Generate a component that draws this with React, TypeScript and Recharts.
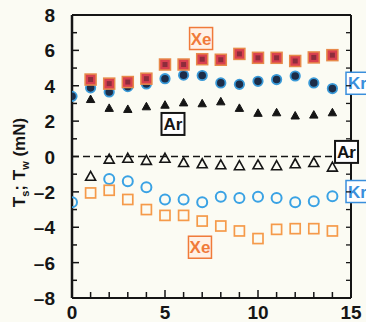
import React from 'react';
import { ComposedChart, Scatter, XAxis, YAxis, ReferenceLine, ReferenceDot } from 'recharts';

// ---- data ----
const xValues = [0, 1, 2, 3, 4, 5, 6, 7, 8, 9, 10, 11, 12, 13, 14];
// T_s (filled markers)
const xeTs = [null, 4.35, 4.12, 4.21, 4.4, 5.2, 5.2, 5.5, 5.47, 5.8, 5.58, 5.58, 5.4, 5.6, 5.73];
const krTs = [3.4, 3.88, 3.65, 3.95, 4.1, 4.4, 4.6, 4.58, 4.16, 4.08, 4.25, 4.35, 4.55, 4.16, 3.84];
const arTs = [null, 3.22, 2.72, 2.66, 2.81, 2.9, 3.03, 2.98, 3.09, 2.72, 2.44, 2.47, 2.29, 2.34, 2.47];
// T_w (open markers)
const arTw = [null, -1.12, -0.15, -0.1, -0.22, -0.1, -0.34, -0.41, -0.47, -0.52, -0.47, -0.52, -0.41, -0.34, -0.6];
const krTw = [-2.58, null, -1.27, -1.4, -1.74, -2.43, -2.43, -2.58, -2.28, -2.34, -2.28, -2.34, -2.58, -2.53, -2.25];
const xeTw = [null, -2.06, -1.91, -2.43, -3.0, -3.33, -3.33, -3.65, -3.93, -4.21, -4.64, -4.12, -4.08, -4.08, -4.21];

const xTicks = [0, 1, 2, 3, 4, 5, 6, 7, 8, 9, 10, 11, 12, 13, 14, 15];
const yTicks = [-8, -7, -6, -5, -4, -3, -2, -1, 0, 1, 2, 3, 4, 5, 6, 7, 8];
const xLabeled = [0, 5, 10, 15];
const yLabeled = [-8, -6, -4, -2, 0, 2, 4, 6, 8];

// annotation tags (data coordinates)
const tagNames = ['Xe', 'Ar', 'Xe', 'Kr', 'Ar', 'Kr'];
const tagX = [6.94, 5.43, 6.88, 15.35, 14.76, 15.35];
const tagY = [6.67, 1.84, -5.13, 4.14, 0.26, -1.98];

const toPoints = (ys: (number | null)[]) =>
  xValues.map((x, i) => ({ x, y: ys[i] })).filter((p) => p.y !== null);

const FONT = '"Liberation Sans", Arial, Helvetica, sans-serif';
const INK = '#151515';

const fmt = (v: number) => (v < 0 ? '\u2013' + Math.abs(v) : String(v));

const LeftTick = (props: any) => {
  const { x, y, payload } = props;
  const v = payload.value;
  const major = yLabeled.includes(v);
  return (
    <g>
      <line x1={x} x2={x + (major ? 7 : 5)} y1={y} y2={y} stroke={INK} strokeWidth={1.5} />
      {major && (
        <text x={x - 17} y={y + 7} textAnchor="end" fontSize={19} fontWeight="bold" fontFamily={FONT} fill={INK}>
          {fmt(v)}
        </text>
      )}
    </g>
  );
};

const RightTick = (props: any) => {
  const { x, y } = props;
  return <line x1={x} x2={x - 5} y1={y} y2={y} stroke={INK} strokeWidth={1.3} />;
};

const BottomTick = (props: any) => {
  const { x, y, payload } = props;
  const v = payload.value;
  const major = xLabeled.includes(v);
  return (
    <g>
      <line x1={x} x2={x} y1={y} y2={y - (major ? 8 : 6)} stroke={INK} strokeWidth={1.5} />
      {major && (
        <text x={x} y={y + 21} textAnchor="middle" fontSize={19} fontWeight="bold" fontFamily={FONT} fill={INK}>
          {fmt(v)}
        </text>
      )}
    </g>
  );
};

const TopTick = (props: any) => {
  const { x, y } = props;
  return <line x1={x} x2={x} y1={y} y2={y + 5} stroke={INK} strokeWidth={1.3} />;
};

const YLabel = (props: any) => {
  const vb = props.viewBox || { x: 0, y: 15, width: 72, height: 283 };
  const cx = vb.x + 25;
  const cy = vb.y + vb.height / 2 + 6;
  return (
    <text
      x={cx}
      y={cy}
      transform={`rotate(-90 ${cx} ${cy})`}
      textAnchor="middle"
      fontSize={17}
      fontWeight="bold"
      fontFamily={FONT}
      fill={INK}
    >
      T<tspan fontSize={11} dy={4}>s</tspan>
      <tspan dy={-4}>; T</tspan>
      <tspan fontSize={11} dy={4}>w</tspan>
      <tspan dy={-4}> (mN)</tspan>
    </text>
  );
};

// marker shapes
const FilledSquare = ({ cx, cy }: any) => (
  <g>
    <rect x={cx - 5.5} y={cy - 5.5} width={11} height={11} fill="#d9404f" stroke="#e7894a" strokeWidth={1.5} />
    <rect x={cx - 2.5} y={cy - 2.5} width={5} height={5} fill="#8e2c3c" />
  </g>
);
const FilledCircle = ({ cx, cy }: any) => (
  <circle cx={cx} cy={cy} r={4.7} fill="#1d2d48" stroke="#3a9ad8" strokeWidth={1.8} />
);
const FilledTriangle = ({ cx, cy }: any) => (
  <path d={`M${cx},${cy - 4.5} L${cx + 4.2},${cy + 3} L${cx - 4.2},${cy + 3} Z`} fill={INK} stroke={INK} strokeWidth={1} />
);
const OpenTriangle = ({ cx, cy }: any) => (
  <path d={`M${cx},${cy - 5} L${cx + 5},${cy + 4} L${cx - 5},${cy + 4} Z`} fill="none" stroke={INK} strokeWidth={1.6} />
);
const OpenCircle = ({ cx, cy }: any) => (
  <circle cx={cx} cy={cy} r={5} fill="none" stroke="#3aa2e4" strokeWidth={2} />
);
const OpenSquare = ({ cx, cy }: any) => (
  <rect x={cx - 5} y={cy - 5} width={10} height={10} fill="none" stroke="#f59a4a" strokeWidth={1.7} />
);

const tagStyle: Record<string, { color: string; bg: string; sw: number }> = {
  Xe: { color: '#f07a3a', bg: '#fff1e6', sw: 1.5 },
  Kr: { color: '#3a8fdc', bg: '#ffffff', sw: 1.5 },
  Ar: { color: INK, bg: '#ffffff', sw: 2 },
};

const makeTag = (name: string) => (props: any) => {
  const { cx, cy } = props;
  const s = tagStyle[name];
  return (
    <g>
      <rect x={cx - 11.5} y={cy - 11} width={23} height={22} fill={s.bg} stroke={s.color} strokeWidth={s.sw} />
      <text x={cx} y={cy + 6} textAnchor="middle" fontSize={17} fontWeight="bold" fontFamily={FONT} fill={s.color}>
        {name}
      </text>
    </g>
  );
};

export default function App() {
  return (
    <div style={{ position: 'absolute', left: 0, top: 0, width: 366, height: 322, background: '#fbfbf3' }}>
      <ComposedChart width={366} height={322} margin={{ top: 0, right: 0, bottom: 0, left: 0 }}>
        <XAxis
          dataKey="x"
          type="number"
          domain={[0, 15]}
          ticks={xTicks}
          interval={0}
          height={24}
          tickSize={0}
          tickMargin={0}
          tickLine={false}
          tick={<BottomTick />}
          axisLine={{ stroke: INK, strokeWidth: 2 }}
          allowDataOverflow
        />
        <XAxis
          xAxisId="top"
          orientation="top"
          type="number"
          domain={[0, 15]}
          ticks={xTicks}
          interval={0}
          height={15}
          tickSize={0}
          tickMargin={0}
          tickLine={false}
          tick={<TopTick />}
          axisLine={{ stroke: INK, strokeWidth: 2 }}
          allowDataOverflow
        />
        <YAxis
          dataKey="y"
          type="number"
          domain={[-8, 8]}
          ticks={yTicks}
          interval={0}
          width={72}
          tickSize={0}
          tickMargin={0}
          tickLine={false}
          tick={<LeftTick />}
          axisLine={{ stroke: INK, strokeWidth: 2.5 }}
          label={<YLabel />}
          allowDataOverflow
        />
        <YAxis
          yAxisId="right"
          orientation="right"
          type="number"
          domain={[-8, 8]}
          ticks={yTicks}
          interval={0}
          width={15}
          tickSize={0}
          tickMargin={0}
          tickLine={false}
          tick={<RightTick />}
          axisLine={{ stroke: INK, strokeWidth: 2 }}
          allowDataOverflow
        />
        <ReferenceLine y={0} stroke={INK} strokeWidth={1.5} strokeDasharray="7 4" />
        <Scatter data={toPoints(krTs)} shape={FilledCircle} isAnimationActive={false} />
        <Scatter data={toPoints(xeTs)} shape={FilledSquare} isAnimationActive={false} />
        <Scatter data={toPoints(arTs)} shape={FilledTriangle} isAnimationActive={false} />
        <Scatter data={toPoints(arTw)} shape={OpenTriangle} isAnimationActive={false} />
        <Scatter data={toPoints(krTw)} shape={OpenCircle} isAnimationActive={false} />
        <Scatter data={toPoints(xeTw)} shape={OpenSquare} isAnimationActive={false} />
        {tagNames.map((name, i) => (
          <ReferenceDot
            key={i}
            x={tagX[i]}
            y={tagY[i]}
            r={0}
            ifOverflow="visible"
            shape={makeTag(name)}
          />
        ))}
      </ComposedChart>
    </div>
  );
}
